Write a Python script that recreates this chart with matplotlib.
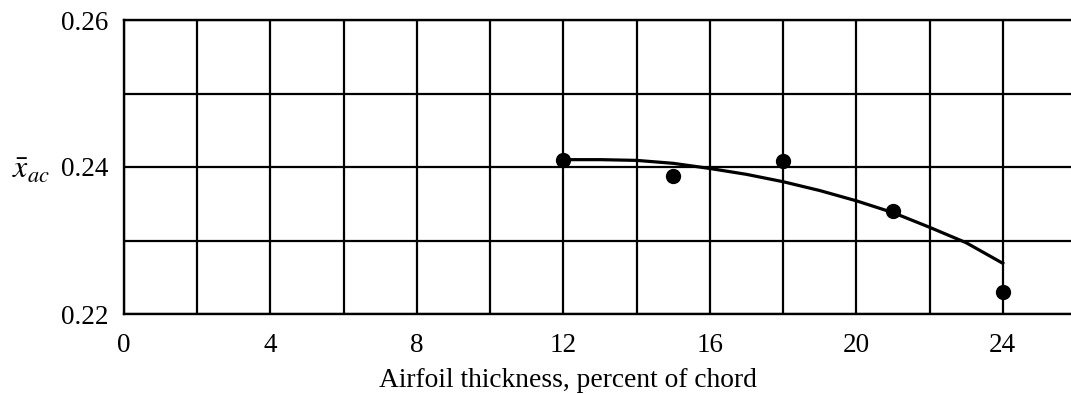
import matplotlib
matplotlib.use("Agg")
import matplotlib.pyplot as plt
from matplotlib.ticker import MultipleLocator

plt.rcParams['font.family'] = ['Liberation Serif', 'DejaVu Serif']
plt.rcParams['mathtext.fontset'] = 'stix'

# measured points
thickness = [12, 15, 18, 21, 24]
x_ac = [0.2409, 0.2388, 0.2408, 0.2340, 0.2230]

# faired curve
curve_t = [12, 13, 14, 15, 16, 17, 18, 19, 20, 21, 22, 23, 24]
curve_x = [0.2410, 0.2410, 0.2409, 0.2405, 0.2398, 0.2390, 0.2380,
           0.2368, 0.2354, 0.2338, 0.2318, 0.2297, 0.2269]

fig = plt.figure(figsize=(10.71, 3.94), dpi=100)
ax = fig.add_axes([124/1071, 80/394, 952/1071, 294/394])

ax.plot(curve_t, curve_x, color='black', linewidth=2.3)
ax.plot(thickness, x_ac, 'o', color='black', markersize=10)

ax.set_xlim(0, 26)
ax.set_ylim(0.22, 0.26)
ax.xaxis.set_major_locator(MultipleLocator(4))
ax.xaxis.set_minor_locator(MultipleLocator(2))
ax.yaxis.set_major_locator(MultipleLocator(0.02))
ax.yaxis.set_minor_locator(MultipleLocator(0.01))
ax.yaxis.set_major_formatter(plt.FuncFormatter(lambda v, p: '%.2f' % v))
ax.grid(True, which='both', color='black', linewidth=1.6)
ax.tick_params(which='both', length=0, labelsize=19.5)
ax.tick_params(axis='x', pad=14)
ax.tick_params(axis='y', pad=11)
for s in ['left', 'bottom', 'top']:
    ax.spines[s].set_linewidth(1.7)
ax.spines['right'].set_visible(False)

ax.set_xlabel('Airfoil thickness, percent of chord', fontsize=19.8)
ax.xaxis.set_label_coords(0.466, -0.225)
ax.xaxis.label.set_va('center')
fig.text(31/1071, 1 - 171/394, r'$\bar{x}_{ac}$', fontsize=23,
         ha='center', va='center')

fig.savefig('out.png', dpi=100)
